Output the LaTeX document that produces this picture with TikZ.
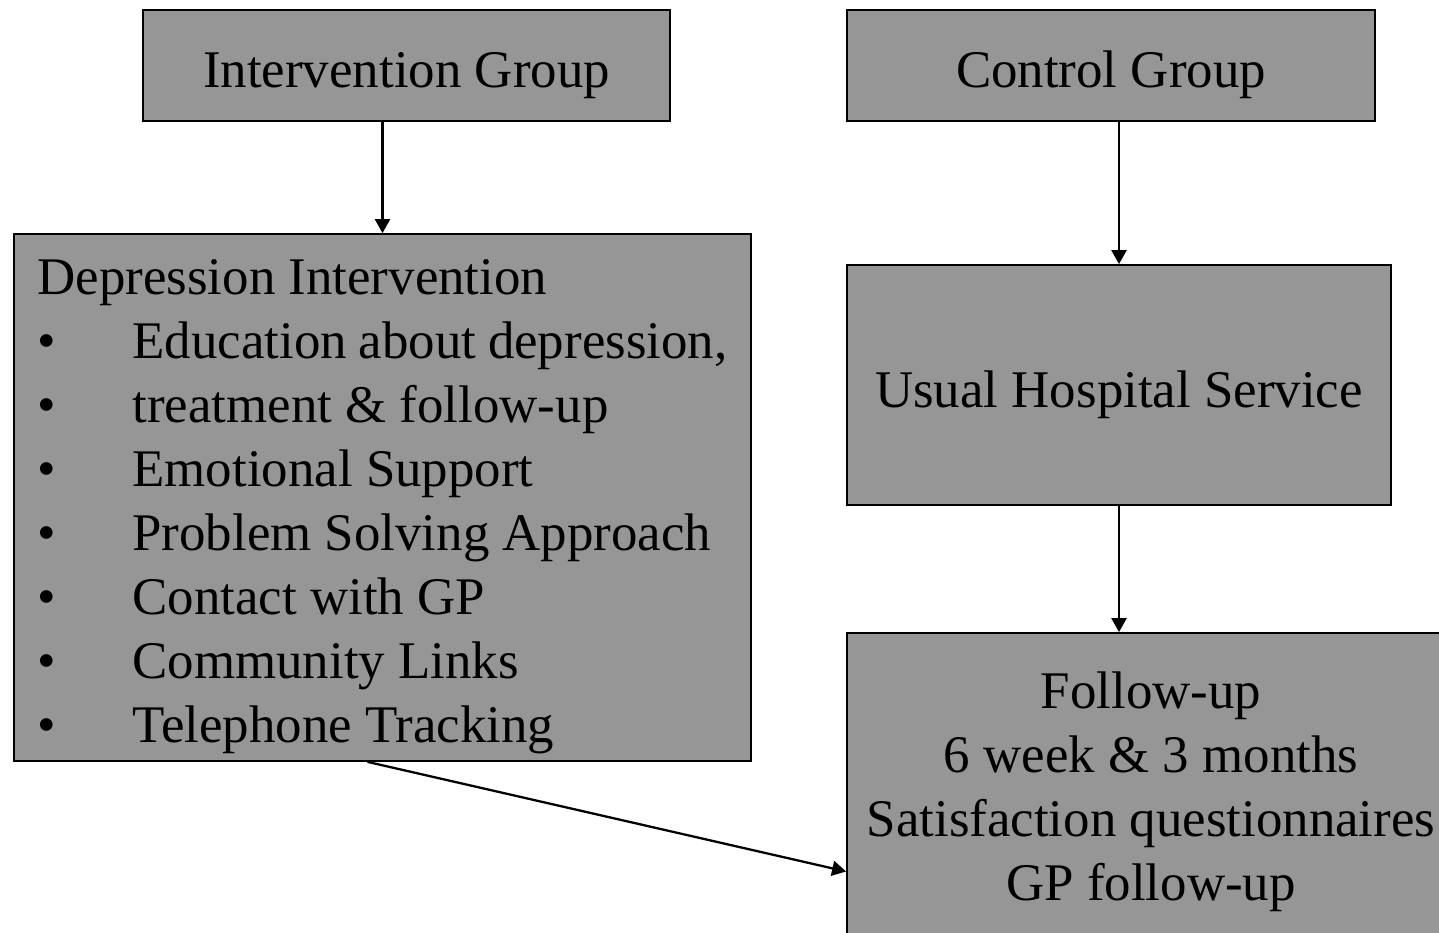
\documentclass[tikz,border=0pt]{standalone}
\usepackage{fontspec}
\setmainfont{Liberation Serif}
\usetikzlibrary{arrows.meta}
\definecolor{gris}{RGB}{150,150,150}
\newcommand{\puce}[1]{\makebox[1.9cm][l]{\textbullet}#1}

\begin{document}
\begin{tikzpicture}[
  cadre/.style={draw=black,line width=1pt,fill=gris,inner sep=0pt,font=\fontsize{30.1}{36.4}\selectfont},
  ligne/.style={text height=1.0cm,text depth=0.1cm},
  fleche/.style={line width=1.3pt,-{Triangle[length=0.28cm,width=0.3cm]}}
  ]
\useasboundingbox (0,0) rectangle (28.78,-18.66);

%cadres du haut
\node[cadre,ligne,minimum width=10.54cm,minimum height=2.22cm] (ig) at (8.13,-1.31) {Intervention Group};
\node[cadre,ligne,minimum width=10.56cm,minimum height=2.22cm] (cg) at (22.22,-1.31) {Control Group};
%fin

%intervention
\node[cadre,minimum width=14.74cm,minimum height=10.54cm,text width=13.8cm,align=flush left,inner xsep=0.46cm] (di) at (7.65,-9.95) {%
\rule{0pt}{1.06cm}Depression Intervention\\
\puce{Education about depression,}\\
\puce{treatment \& follow-up}\\
\puce{Emotional Support}\\
\puce{Problem Solving Approach}\\
\puce{Contact with GP}\\
\puce{Community Links}\\
\puce{Telephone Tracking}};
%fin

%groupe controle
\node[cadre,ligne,minimum width=10.88cm,minimum height=4.8cm] (us) at (22.38,-7.70) {Usual Hospital Service};
\node[cadre,minimum width=12.16cm,minimum height=6.34cm,align=center] (fu) at (23.02,-15.83) {Follow-up\\6 week \& 3 months\\Satisfaction questionnaires\\GP follow-up};
%fin

%fleches
\draw[fleche] (di.north |- ig.south) -- (di.north);
\draw[fleche] (us.north |- cg.south) -- (us.north);
\draw[fleche] (us.south) -- (us.south |- fu.north);
\draw[fleche] ([xshift=-0.3cm]di.south) -- ([yshift=-1.6cm]fu.west);
%fin
\end{tikzpicture}
\end{document}
